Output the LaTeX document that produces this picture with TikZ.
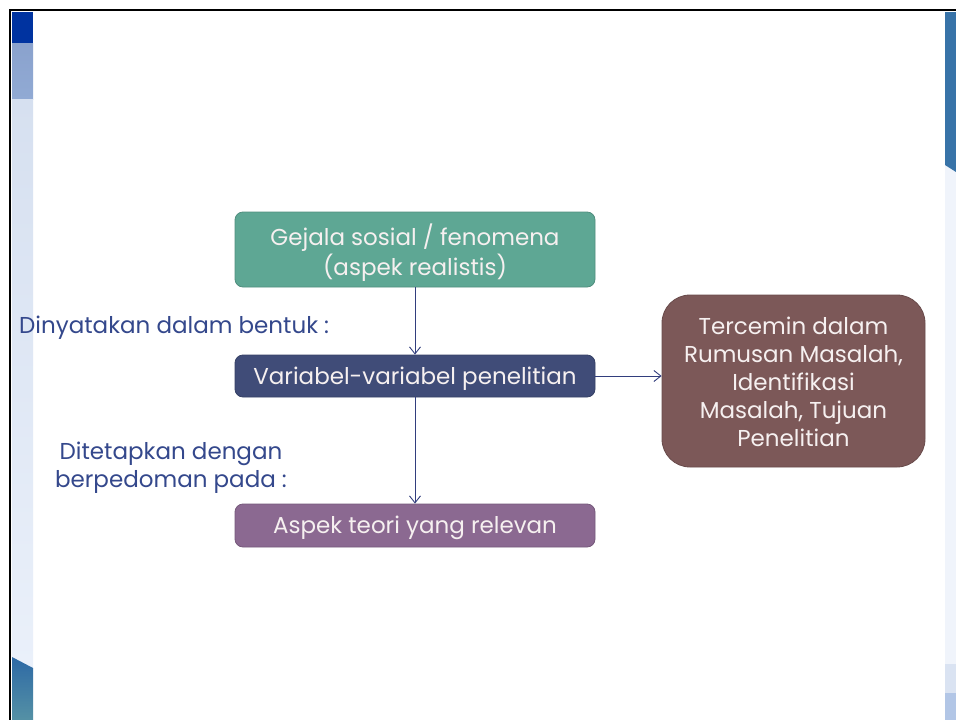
\documentclass[tikz,border=0pt]{standalone}
\usepackage{fontspec}
\setmainfont{Poppins}
\usetikzlibrary{arrows.meta}
\definecolor{cgreen}{RGB}{94,167,148}
\definecolor{cnavy}{RGB}{64,76,120}
\definecolor{cpurple}{RGB}{139,105,145}
\definecolor{cbrown}{RGB}{124,88,88}
\definecolor{clabel}{RGB}{52,72,140}
\definecolor{cline}{RGB}{50,62,125}
\definecolor{ctext}{RGB}{246,240,240}
\tikzset{
  box/.style={draw=#1!85!black, fill=#1, rounded corners=8pt, line width=0.8pt, inner sep=0pt},
  txt/.style={text=ctext, align=center, font=\fontsize{23}{30}\selectfont, inner sep=0pt},
  conn/.style={draw=cline, line width=0.9pt, -{Straight Barb[length=7pt,width=11pt,line width=0.9pt]}},
  lbl/.style={text=clabel, font=\fontsize{23}{28}\selectfont, inner sep=0pt, align=center}
}
\begin{document}
\begin{tikzpicture}[x=1pt,y=-1pt]
\useasboundingbox (0,0) rectangle (956,720);
\fill[white] (0,0) rectangle (956,720);
% left strip
\fill[color={rgb,255:red,0;green,51;blue,160}] (12,12) rectangle (33,43);
\shade[top color={rgb,255:red,138;green,162;blue,205}, bottom color={rgb,255:red,145;green,170;blue,212}] (12,43) rectangle (33,99);
\shade[top color={rgb,255:red,214;green,224;blue,240}, bottom color={rgb,255:red,234;green,240;blue,250}] (12,99) rectangle (33,668);
\shade[top color={rgb,255:red,45;green,105;blue,165}, bottom color={rgb,255:red,85;green,145;blue,165}] (12,657) -- (33,668) -- (33,720) -- (12,720) -- cycle;
% right strip
\fill[color={rgb,255:red,240;green,244;blue,251}] (945,12) rectangle (956,720);
\fill[color={rgb,255:red,56;green,115;blue,168}] (945,12) -- (956,12) -- (956,172) -- (945,165) -- cycle;
\fill[color={rgb,255:red,218;green,227;blue,242}] (945,664) rectangle (956,693);
\fill[color={rgb,255:red,178;green,198;blue,230}] (945,693) rectangle (956,720);
% black border
\draw[black, line width=2.6pt] (10,720) -- (10,10) -- (956,10);

% boxes
\node[box=cgreen, minimum width=360pt, minimum height=75pt] (g) at (415,249.5) {};
\node[txt] (gt) at ([yshift=-3pt]g.center) {Gejala sosial / fenomena\\(aspek realistis)};
\node[box=cnavy, minimum width=360pt, minimum height=42pt] (v) at (415,376) {};
\node[txt] (vt) at ([yshift=-3pt]v.center) {Variabel-variabel penelitian};
\node[box=cpurple, minimum width=360pt, minimum height=43pt] (a) at (415,525.5) {};
\node[txt] (at) at ([yshift=-2pt]a.center) {Aspek teori yang relevan};
\node[box=cbrown, rounded corners=28pt, minimum width=263pt, minimum height=172pt] (t) at (793.5,381) {};
\node[txt, font=\fontsize{23}{28}\selectfont] (tt) at ([yshift=-1pt]t.center)
  {Tercemin dalam\\Rumusan Masalah,\\Identifikasi\\Masalah, Tujuan\\Penelitian};

% labels
\node[lbl, anchor=west] (l1) at (19,328) {Dinyatakan dalam bentuk :};
\node[lbl] (l2) at (171,468) {Ditetapkan dengan\\berpedoman pada :};

% connectors
\draw[conn] (g.south) -- (v.north);
\draw[conn] (v.south) -- (a.north);
\draw[conn] (v.east) -- (v.east -| t.west);
\end{tikzpicture}
\end{document}
